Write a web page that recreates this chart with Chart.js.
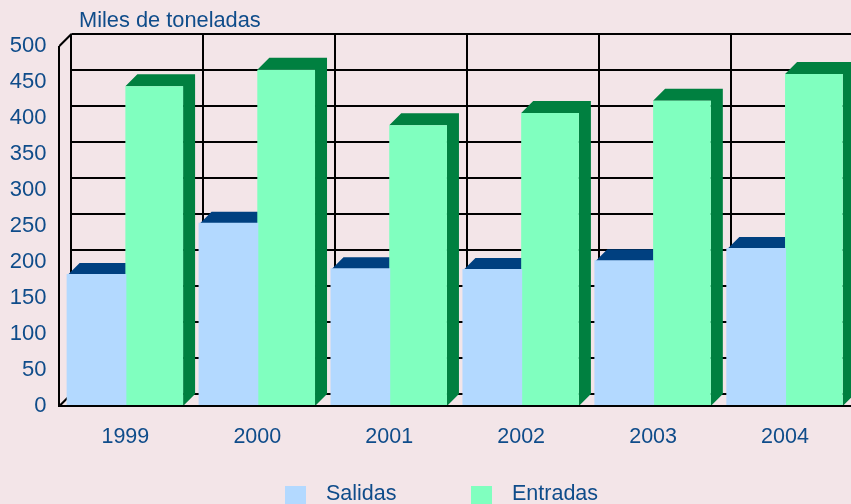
<!DOCTYPE html>
<html>
<head>
<meta charset="utf-8">
<script src="https://cdn.jsdelivr.net/npm/chart.js@4"></script>
<style>
  html, body { margin: 0; padding: 0; background: #f3e5e8; overflow: hidden; }
  canvas { display: block; }
</style>
</head>
<body>
<canvas id="bar-chart" width="851" height="504"></canvas>
<script>
const years = ["1999", "2000", "2001", "2002", "2003", "2004"];
const salidas = [182, 253, 190, 189, 201, 218];
const entradas = [444, 467, 390, 407, 424, 461];
const unitLabel = "Miles de toneladas";

const textColor = "#0f4c8a";
const fontFamily = "'Liberation Sans', Arial, sans-serif";
const depth = 12; // offset of the back wall, in pixels

// Top face of a bar, plus its side when nothing stands next to it
const drawFaces = (ctx, bar, color, withSide) => {
  const left = bar.x - bar.width / 2;
  const right = bar.x + bar.width / 2;
  ctx.fillStyle = color;
  ctx.beginPath();
  ctx.moveTo(left, bar.y);
  ctx.lineTo(left + depth, bar.y - depth);
  ctx.lineTo(right + depth, bar.y - depth);
  if (withSide) {
    ctx.lineTo(right + depth, bar.base - depth);
    ctx.lineTo(right, bar.base);
  }
  ctx.lineTo(right, bar.y);
  ctx.closePath();
  ctx.fill();
};

const line = (ctx, x1, y1, x2, y2) => {
  ctx.beginPath();
  ctx.moveTo(x1, y1);
  ctx.lineTo(x2, y2);
  ctx.stroke();
};

const box3d = {
  id: "box3d",
  beforeDatasetsDraw(chart) {
    const { ctx, chartArea, scales } = chart;
    const { left, right, bottom } = chartArea;
    ctx.save();
    ctx.strokeStyle = "#000";
    ctx.lineWidth = 2;

    // back wall grid
    scales.y.ticks.forEach((t) => {
      const y = scales.y.getPixelForValue(t.value) - depth;
      line(ctx, left + depth, y, right + depth, y);
    });
    years.forEach((_, i) => {
      const x = Math.round(left + depth + (i * (right - left)) / years.length);
      line(ctx, x, chartArea.top - depth, x, bottom - depth);
    });

    // left wall
    line(ctx, left, chartArea.top, left + depth, chartArea.top - depth);
    line(ctx, left, bottom, left + depth, bottom - depth);

    // bar faces, the front is drawn by Chart.js afterwards
    const lastSet = chart.data.datasets.length - 1;
    chart.data.datasets.forEach((ds, i) => {
      chart.getDatasetMeta(i).data.forEach((bar) => {
        drawFaces(ctx, bar, ds.faceColor, i === lastSet);
      });
    });
    ctx.restore();
  },
  afterDatasetsDraw(chart) {
    const { ctx, chartArea } = chart;
    const axisX = Math.round(chartArea.left);
    ctx.save();
    ctx.strokeStyle = "#000";
    ctx.lineWidth = 2;
    line(ctx, axisX, chartArea.top, axisX, chartArea.bottom + 1);
    line(ctx, axisX, chartArea.bottom, chartArea.right, chartArea.bottom);

    // unit label and legend
    ctx.font = "21.8px " + fontFamily;
    ctx.textBaseline = "middle";
    ctx.fillStyle = textColor;
    ctx.fillText(unitLabel, 79, 21);

    ctx.font = "21.5px " + fontFamily;
    const legendX = [285, 471];
    chart.data.datasets.forEach((ds, i) => {
      ctx.fillStyle = ds.backgroundColor;
      ctx.fillRect(legendX[i], 486, 21, 18);
      ctx.fillStyle = textColor;
      ctx.fillText(ds.label, legendX[i] + 41, 494);
    });
    ctx.restore();
  },
};

new Chart(document.getElementById("bar-chart"), {
  type: "bar",
  data: {
    labels: years,
    datasets: [
      // inflateAmount closes the hairline seam where the two bars touch
      { label: "Salidas", data: salidas, backgroundColor: "#b3d9ff", faceColor: "#004080", inflateAmount: 1 },
      { label: "Entradas", data: entradas, backgroundColor: "#80ffbf", faceColor: "#008040" },
    ],
  },
  options: {
    responsive: false,
    animation: false,
    layout: { padding: { top: 46 } },
    datasets: { bar: { categoryPercentage: 0.875, barPercentage: 1 } },
    plugins: { legend: { display: false }, title: { display: false }, tooltip: { enabled: false } },
    scales: {
      x: {
        grid: { display: false, drawTicks: false },
        border: { display: false },
        afterFit: (scale) => { scale.height = 98; },
        ticks: { color: textColor, padding: 18, maxRotation: 0, font: { family: fontFamily, size: 21.5 } },
      },
      y: {
        min: 0,
        max: 500,
        grid: { display: false, drawTicks: false },
        border: { display: false },
        afterFit: (scale) => { scale.width = 59.4; },
        ticks: { stepSize: 50, color: textColor, padding: 13, font: { family: fontFamily, size: 22 } },
      },
    },
  },
  plugins: [box3d],
});
</script>
</body>
</html>
